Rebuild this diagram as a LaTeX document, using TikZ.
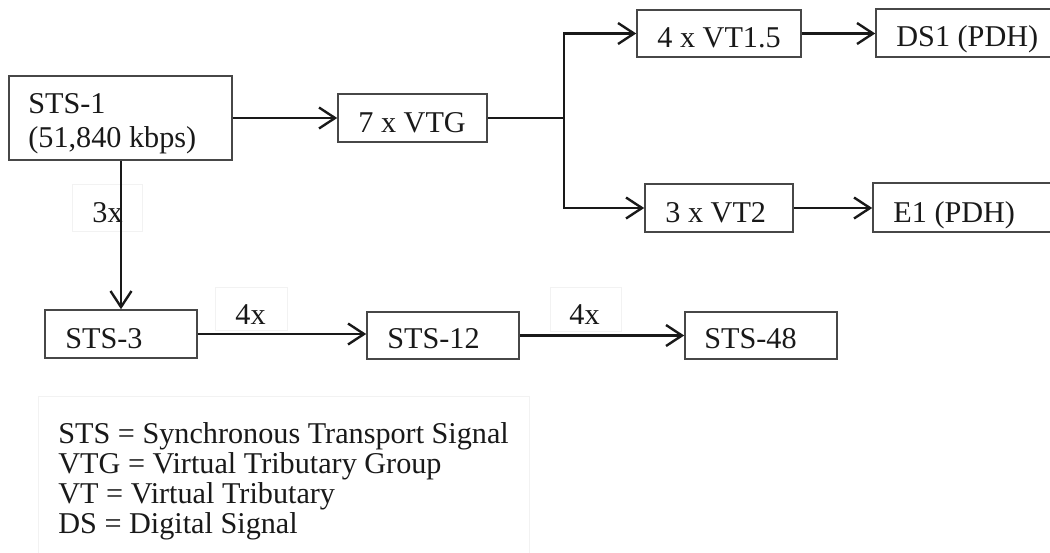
\documentclass[tikz,border=0pt]{standalone}
\usepackage{fontspec}
\setmainfont{Liberation Serif}
\usetikzlibrary{arrows.meta}
\begin{document}
\begin{tikzpicture}[x=0.5pt,y=-0.5pt,
  box/.style={draw=black!72, line width=0.8pt, fill=white, rectangle, inner sep=0pt},
  lblbox/.style={draw=black!5, line width=0.5pt, fill=white, rectangle, inner sep=0pt},
  txt/.style={anchor=base west, inner sep=0pt, text=black!90, font=\fontsize{15.1}{17}\selectfont},
  conn/.style={draw=black!90, line width=1.2pt},
  arr/.style={conn, -{Straight Barb[length=8pt,width=10.5pt,line width=1.2pt]}}]
\useasboundingbox (0,0) rectangle (1050,552);
\clip (0,0) rectangle (1050,552);
% label backgrounds
\node[lblbox, minimum width=35pt, minimum height=23.5pt] (l3xbg) at (107,207.5) {};
\node[lblbox, minimum width=36pt, minimum height=21.5pt] (l4abg) at (251,308.5) {};
\node[lblbox, minimum width=35.5pt, minimum height=22pt] (l4bbg) at (585.5,309) {};
\node[lblbox, minimum width=245.5pt, minimum height=87pt] (legend) at (283.5,483) {};
% boxes
\node[box, minimum width=111.5pt, minimum height=42pt] (sts1) at (120.5,118) {};
\node[box, minimum width=74.5pt, minimum height=24pt] (vtg) at (412.5,118) {};
\node[box, minimum width=82pt, minimum height=23.5pt] (vt15) at (719,33.5) {};
\node[box, minimum width=100pt, minimum height=24pt] (ds1) at (976,33) {};
\node[box, minimum width=74pt, minimum height=24pt] (vt2) at (719,208) {};
\node[box, minimum width=100pt, minimum height=24.5pt] (e1) at (973,207.5) {};
\node[box, minimum width=76pt, minimum height=24pt] (sts3) at (121,334) {};
\node[box, minimum width=76pt, minimum height=23.5pt] (sts12) at (443,335.5) {};
\node[box, minimum width=76pt, minimum height=23.5pt] (sts48) at (761,335.5) {};
% texts
\node[txt] (t1a) at (28,113) {STS-1};
\node[txt] (t1b) at (28,147) {(51,840 kbps)};
\node[txt] (tvtg) at (358,132) {7 x VTG};
\node[txt] (tvt15) at (657,47) {4 x VT1.5};
\node[txt] (tds1) at (896,46) {DS1 (PDH)};
\node[txt] (tvt2) at (665,222) {3 x VT2};
\node[txt] (te1) at (893,222) {E1 (PDH)};
\node[txt] (tsts3) at (65,348) {STS-3};
\node[txt] (tsts12) at (387,348) {STS-12};
\node[txt] (tsts48) at (704,348) {STS-48};
\node[txt] (l3x) at (92,222) {3x};
\node[txt] (l4a) at (235,324) {4x};
\node[txt] (l4b) at (569,324) {4x};
\node[txt] (g1) at (58,443) {STS = Synchronous Transport Signal};
\node[txt] (g2) at (58,473) {VTG = Virtual Tributary Group};
\node[txt] (g3) at (58,503) {VT = Virtual Tributary};
\node[txt] (g4) at (58,533) {DS = Digital Signal};
% connectors
\coordinate (jn) at (564,118);
\draw[arr] (sts1) -- (vtg);
\draw[conn] (vtg.east) -- (jn);
\draw[arr] (jn) |- (vt15.west);
\draw[arr] (jn) |- (vt2.west);
\draw[arr] (vt15) -- (ds1.west |- vt15.east);
\draw[arr] (vt2) -- (e1.west |- vt2.east);
\draw[arr] (sts3.north |- sts1.south) -- (sts3.north);
\draw[arr] (sts3.east) -- (sts3.east -| sts12.west);
\draw[arr] (sts12) -- (sts48);
\end{tikzpicture}
\end{document}
